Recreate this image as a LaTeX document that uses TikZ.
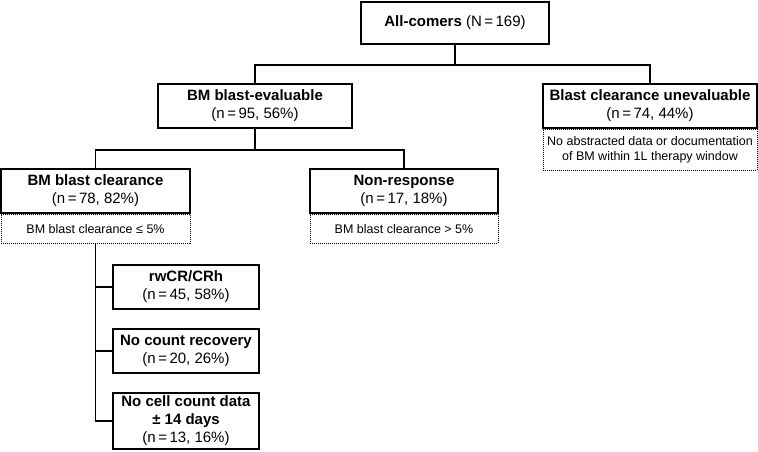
\documentclass[tikz,border=0pt]{standalone}
\usepackage{fontspec}
\setmainfont{Liberation Sans}
\usetikzlibrary{positioning}
\tikzset{
    box/.style={draw, line width=1.8pt, align=center, inner sep=0pt, minimum height=44pt, font=\fontsize{15}{18}\selectfont},
    note/.style={draw, line width=1pt, dash pattern=on 1pt off 1pt, align=center, inner sep=0pt, font=\fontsize{12.5}{15}\selectfont},
    link/.style={line width=1.5pt},
}
\begin{document}
\begin{tikzpicture}[x=1pt,y=-1pt]
    \useasboundingbox (0,0) rectangle (758,451);
    \node[box, minimum width=188pt, minimum height=42pt] (all) at (455,23) {\textbf{All-comers} (N\,=\,169)};
    \node[box, minimum width=194pt] (eval) at (255,106) {\textbf{BM blast-evaluable}\\(n\,=\,95, 56\%)};
    \node[box, minimum width=214pt] (uneval) at (650,106) {\textbf{Blast clearance unevaluable}\\(n\,=\,74, 44\%)};
    \node[note, minimum width=214pt, minimum height=41pt, below=0pt of uneval] (unevalnote) {No abstracted data or documentation\\of BM within 1L therapy window};
    \node[box, minimum width=189pt] (clear) at (95.5,191) {\textbf{BM blast clearance}\\(n\,=\,78, 82\%)};
    \node[note, minimum width=189pt, minimum height=29pt, below=0pt of clear] (clearnote) {BM blast clearance ≤ 5\%};
    \node[box, minimum width=188pt] (nonresp) at (404,191) {\textbf{Non-response}\\(n\,=\,17, 18\%)};
    \node[note, minimum width=188pt, minimum height=29pt, below=0pt of nonresp] (nonrespnote) {BM blast clearance > 5\%};
    \node[box, minimum width=146pt] (rwcr) at (186,287) {\textbf{rwCR/CRh}\\(n\,=\,45, 58\%)};
    \node[box, minimum width=146pt] (norecov) at (186,351) {\textbf{No count recovery}\\(n\,=\,20, 26\%)};
    \node[box, minimum width=146pt, minimum height=56pt] (nodata) at (186,421) {\textbf{No cell count data}\\\textbf{± 14 days}\\(n\,=\,13, 16\%)};

    \draw[link] (all.south) -- ++(0,20) -| (eval.north);
    \draw[link] (all.south) -- ++(0,20) -| (uneval.north);
    \draw[link] (eval.south) -- ++(0,21) -| (clear.north);
    \draw[link] (eval.south) -- ++(0,21) -| (nonresp.north);
    \draw[link] (clearnote.south) |- (rwcr.west);
    \draw[link] (clearnote.south) |- (norecov.west);
    \draw[link] (clearnote.south) |- (nodata.west);
\end{tikzpicture}
\end{document}
